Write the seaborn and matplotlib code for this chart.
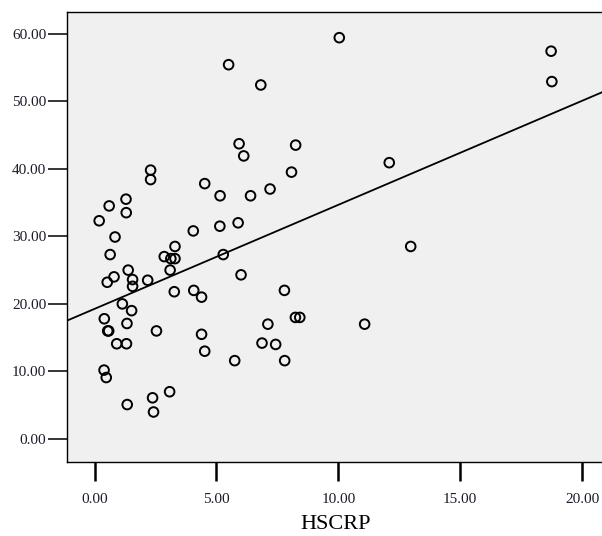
import matplotlib
matplotlib.use("Agg")
import matplotlib.pyplot as plt
import seaborn as sns
import pandas as pd

# Observations: HSCRP (x) against the outcome measure (y)
hscrp = [
    0.19, 0.60, 0.84, 0.64, 0.80, 0.52, 0.40, 0.54, 0.58, 0.91, 0.39, 0.48,
    1.29, 1.30, 1.38, 1.56, 1.56, 1.14, 1.52, 1.33, 1.31, 1.34,
    2.30, 2.30, 2.18, 2.54, 2.38, 2.42, 3.08,
    2.86, 3.30, 3.13, 3.30, 3.10, 3.27,
    4.05, 4.07, 4.39, 4.39, 4.52, 4.52,
    5.15, 5.14, 5.28, 5.50, 5.89, 5.93, 6.12, 6.40, 6.01, 5.75,
    6.82, 6.87, 7.11, 7.43, 7.20, 7.79, 7.80,
    8.08, 8.25, 8.24, 8.42,
    10.04, 11.08, 12.09, 12.97, 18.73, 18.76,
]
score = [
    32.3, 34.5, 29.9, 27.3, 24.0, 23.2, 17.8, 16.0, 16.0, 14.1, 10.2, 9.1,
    35.5, 33.5, 25.0, 23.6, 22.6, 20.0, 19.0, 17.1, 14.1, 5.1,
    39.8, 38.4, 23.5, 16.0, 6.1, 4.0, 7.0,
    27.0, 28.5, 26.7, 26.7, 25.0, 21.8,
    30.8, 22.0, 21.0, 15.5, 13.0, 37.8,
    36.0, 31.5, 27.3, 55.4, 32.0, 43.7, 41.9, 36.0, 24.3, 11.6,
    52.4, 14.2, 17.0, 14.0, 37.0, 22.0, 11.6,
    39.5, 43.5, 18.0, 18.0,
    59.4, 17.0, 40.9, 28.5, 57.4, 52.9,
]
x_ticks = [0, 5, 10, 15, 20]
y_ticks = [0, 10, 20, 30, 40, 50, 60]
x_label = "HSCRP"

df = pd.DataFrame({"HSCRP": hscrp, "score": score})

sns.set_theme(style="white")
plt.rcParams["font.family"] = ["Liberation Serif", "DejaVu Serif"]

W, H = 602, 536
fig = plt.figure(figsize=(W / 100, H / 100), dpi=100)
left, right, top, bottom = 67, 604, 12, 462
ax = fig.add_axes([left / W, 1 - bottom / H, (right - left) / W, (bottom - top) / H])
ax.set_facecolor("#F0F0F0")

ax.set_xlim(-1.13, 20.9)
ax.set_ylim(-3.4, 63.2)

sns.regplot(
    data=df, x="HSCRP", y="score", ci=None, truncate=False, ax=ax,
    color="black",
    scatter_kws=dict(s=48, facecolors="none", edgecolors="black",
                     linewidths=1.4, alpha=1, zorder=3),
    line_kws=dict(color="black", lw=1.3, zorder=2),
)

ax.set_xticks(x_ticks)
ax.set_yticks(y_ticks)
ax.set_xticklabels([f"{v:.2f}" for v in x_ticks])
ax.set_yticklabels([f"{v:.2f}" for v in y_ticks])
ax.tick_params(axis="x", direction="out", length=14, width=1.8, pad=8,
               labelsize=11, colors="black", labelcolor="#1b1b2b", bottom=True)
ax.tick_params(axis="y", direction="out", length=14, width=1.1, pad=1,
               labelsize=11, colors="black", labelcolor="#1b1b2b", left=True)

for sp in ax.spines.values():
    sp.set_color("black")
    sp.set_linewidth(1.0)

ax.set_xlabel(x_label, fontsize=16, color="black", labelpad=7)
ax.set_ylabel("")

fig.savefig("out.png", dpi=100)
